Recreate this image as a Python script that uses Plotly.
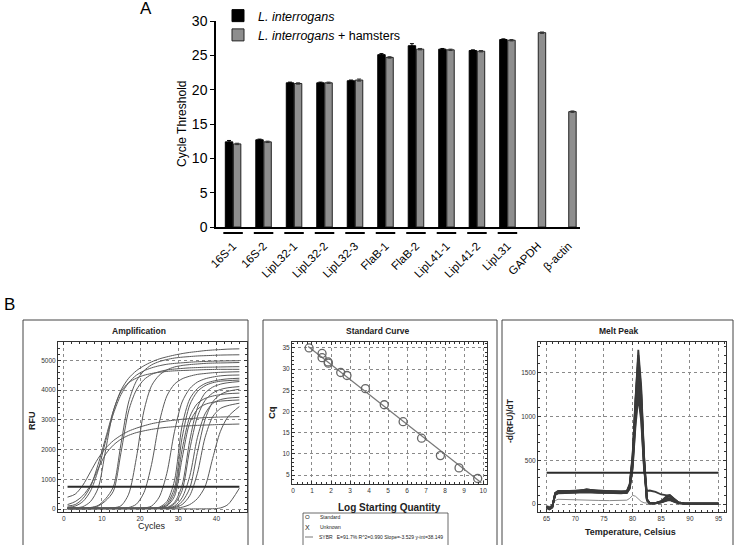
import plotly.graph_objects as go

W, H = 737, 545
FONT = "Liberation Sans, Arial, sans-serif"


def px(x):
    return x / W


def py(y):
    return 1 - y / H


# ---------------- Panel A data ----------------
categories = ["16S-1", "16S-2", "LipL32-1", "LipL32-2", "LipL32-3", "FlaB-1",
              "FlaB-2", "LipL41-1", "LipL41-2", "LipL31", "GAPDH", "β-actin"]
ct_li = [12.4, 12.7, 21.0, 21.0, 21.3, 25.1, 26.4, 25.9, 25.7, 27.3, None, None]
ct_li_err = [0.2, 0.1, 0.1, 0.1, 0.1, 0.15, 0.3, 0.1, 0.1, 0.1, 0, 0]
ct_lih = [12.1, 12.4, 20.9, 21.0, 21.4, 24.7, 25.9, 25.8, 25.6, 27.2, 28.3, 16.8]
ct_lih_err = [0.1, 0.1, 0.1, 0.1, 0.15, 0.1, 0.1, 0.1, 0.1, 0.1, 0.1, 0.1]
underlined = categories[:10]
ct_ticks = [0, 5, 10, 15, 20, 25, 30]

# ---------------- Amplification data ----------------
amp_cycles = [1, 3, 5, 7, 9, 11, 13, 15, 17, 19, 21, 23, 25, 27, 29, 31, 33, 35, 37, 39, 41, 43, 46]
amp_curves = [
    [400, 500, 800, 1250, 1700, 2050, 2300, 2480, 2620, 2720, 2800, 2870, 2920, 2960, 2990, 3020, 3040, 3060, 3075, 3085, 3095, 3100, 3110],
    [150, 250, 450, 800, 1350, 1850, 2150, 2350, 2480, 2570, 2630, 2680, 2720, 2750, 2770, 2790, 2800, 2815, 2825, 2835, 2845, 2850, 2860],
    [100, 150, 350, 750, 1500, 2400, 3300, 4000, 4400, 4650, 4820, 4950, 5050, 5120, 5180, 5230, 5270, 5300, 5330, 5350, 5365, 5380, 5390],
    [60, 100, 250, 600, 1300, 2300, 3200, 3850, 4250, 4500, 4650, 4750, 4820, 4870, 4900, 4920, 4940, 4955, 4965, 4975, 4980, 4985, 4990],
    [30, 40, 80, 250, 700, 2000, 3300, 3950, 4250, 4400, 4500, 4560, 4600, 4630, 4650, 4660, 4670, 4680, 4690, 4695, 4700, 4700, 4700],
    [20, 25, 30, 50, 120, 350, 750, 2200, 3600, 4300, 4650, 4850, 4960, 5030, 5080, 5110, 5130, 5150, 5160, 5170, 5180, 5185, 5190],
    [20, 25, 30, 40, 100, 280, 600, 1900, 3300, 4000, 4350, 4530, 4620, 4680, 4710, 4730, 4750, 4760, 4770, 4775, 4780, 4785, 4790],
    [10, 12, 15, 18, 20, 25, 40, 110, 500, 1700, 3300, 4150, 4500, 4680, 4780, 4830, 4860, 4880, 4900, 4910, 4915, 4920, 4930],
    [10, 10, 12, 15, 18, 20, 25, 30, 50, 160, 550, 1500, 2900, 3800, 4200, 4380, 4470, 4530, 4560, 4585, 4600, 4610, 4620],
    [10, 10, 10, 12, 14, 15, 17, 18, 20, 25, 35, 100, 400, 1200, 2600, 3600, 4050, 4270, 4380, 4440, 4480, 4500, 4510],
    [15, 15, 15, 15, 15, 15, 15, 15, 16, 18, 20, 30, 60, 250, 950, 2800, 3700, 4050, 4220, 4300, 4350, 4380, 4400],
    [30, 30, 28, 28, 26, 26, 25, 25, 25, 25, 26, 30, 40, 180, 700, 2400, 3500, 3950, 4150, 4250, 4300, 4320, 4340],
    [20, 20, 20, 20, 20, 20, 20, 20, 20, 20, 20, 22, 30, 130, 550, 2000, 3100, 3550, 3720, 3800, 3850, 3880, 3900],
    [40, 40, 38, 36, 35, 34, 33, 32, 31, 30, 30, 30, 35, 100, 420, 1700, 2900, 3350, 3520, 3590, 3630, 3650, 3670],
    [10, 10, 10, 10, 10, 10, 10, 10, 10, 12, 14, 16, 25, 50, 220, 800, 2300, 3400, 3900, 4100, 4200, 4250, 4290],
    [25, 25, 25, 24, 24, 23, 23, 22, 22, 22, 22, 24, 28, 40, 170, 620, 2000, 3100, 3650, 3900, 4020, 4080, 4120],
    [50, 48, 46, 45, 44, 43, 42, 41, 40, 40, 40, 40, 40, 45, 100, 380, 1100, 2400, 3200, 3550, 3680, 3730, 3760],
    [15, 15, 15, 15, 15, 15, 15, 15, 15, 15, 15, 16, 18, 25, 70, 250, 700, 1900, 3000, 3600, 3850, 3960, 4030],
    [35, 35, 34, 33, 32, 31, 30, 30, 30, 30, 30, 30, 30, 32, 50, 150, 450, 1200, 2400, 3100, 3380, 3480, 3560],
    [20, 20, 20, 20, 20, 20, 20, 20, 20, 20, 20, 20, 20, 22, 30, 60, 150, 350, 750, 1700, 2600, 3100, 3450],
    [5, 5, 5, 5, 5, 5, 5, 5, 5, 5, 5, 5, 5, 5, 5, 5, 5, 5, 6, 10, 35, 150, 700],
]
amp_threshold = 750

# ---------------- Standard curve data ----------------
std_log_qty = [0.85, 1.53, 1.53, 1.85, 1.86, 2.51, 2.84, 3.81, 4.80, 5.79, 6.76, 7.75, 8.73, 9.71]
std_cq = [35.0, 33.7, 32.7, 31.7, 31.4, 29.2, 28.5, 25.4, 21.6, 17.6, 13.7, 9.6, 6.7, 4.2]
fit_slope = -3.529
fit_intercept = 38.149
fit_range = [0.8, 9.9]
std_legend_lines = ["Standard", "Unknown",
                    "SYBR   E=91.7% R^2=0.990 Slope=-3.529 y-int=38.149"]

# ---------------- Melt peak data ----------------
melt_temp = [65.0, 65.5, 66.0, 66.5, 67.0, 68.0, 70.0, 72.0, 74.0, 76.0, 78.0, 79.0, 79.5, 80.0, 80.5,
             81.0, 81.5, 82.0, 82.5, 83.0, 84.0, 85.0, 86.0, 86.5, 87.0, 88.0, 89.0, 90.0, 92.5, 95.0]
melt_curves = [
    [-40, -55, -35, 130, 150, 152, 150, 165, 155, 150, 140, 150, 230, 560, 1250, 1760, 1350, 560, 60, 10, 10, 25, 60, 70, 50, 15, 8, 5, 5, 5],
    [-30, -45, -30, 120, 145, 148, 150, 160, 150, 148, 138, 145, 220, 540, 1200, 1700, 1300, 540, 55, 10, 12, 30, 80, 95, 70, 20, 8, 5, 5, 5],
    [-45, -60, -40, 125, 140, 145, 142, 155, 148, 145, 135, 142, 210, 520, 1150, 1640, 1250, 520, 50, 8, 10, 20, 45, 50, 35, 12, 6, 5, 4, 5],
    [-35, -50, -25, 115, 135, 140, 140, 150, 142, 140, 130, 140, 200, 500, 1100, 1560, 1200, 500, 50, 10, 12, 30, 75, 90, 65, 18, 8, 5, 5, 5],
    [-25, -40, -20, 110, 130, 135, 135, 148, 140, 138, 128, 135, 195, 470, 1050, 1480, 1130, 470, 45, 8, 10, 22, 50, 60, 45, 12, 6, 4, 4, 4],
    [-40, -50, -30, 120, 140, 142, 140, 170, 145, 142, 132, 140, 190, 450, 1000, 1400, 1080, 450, 45, 10, 12, 35, 95, 105, 75, 20, 8, 5, 5, 5],
    [-30, -45, -25, 110, 128, 130, 130, 140, 132, 130, 122, 130, 180, 420, 930, 1300, 1000, 420, 40, 8, 10, 20, 40, 45, 35, 10, 5, 4, 4, 4],
    [-35, -45, -30, 105, 122, 125, 125, 135, 128, 126, 118, 125, 175, 400, 880, 1220, 950, 400, 150, 155, 140, 110, 100, 100, 70, 20, 8, 5, 5, 5],
]
melt_outlier = [-20, -25, -10, 40, 55, 52, 48, 45, 42, 40, 40, 45, 65, 100, 90, 60, 30, 15, 10, 10, 10, 20, 40, 45, 35, 10, 6, 5, 5, 5]
melt_threshold = 357
melt_threshold_range = [65, 95]

fig = go.Figure()

# ---------------- Panel A traces ----------------
fig.add_trace(go.Bar(
    x=categories, y=ct_li, name="<i>L. interrogans</i>",
    marker=dict(color="black", line=dict(color="black", width=1)),
    error_y=dict(type="data", array=ct_li_err, color="black", thickness=1, width=2),
    xaxis="x", yaxis="y"))
fig.add_trace(go.Bar(
    x=categories, y=ct_lih, name="<i>L. interrogans</i> + hamsters",
    marker=dict(color="#8e8e8e", line=dict(color="#222222", width=1)),
    error_y=dict(type="data", array=ct_lih_err, color="#333333", thickness=1, width=2),
    xaxis="x", yaxis="y"))

# ---------------- Amplification traces ----------------
for curve in amp_curves:
    fig.add_trace(go.Scatter(
        x=amp_cycles, y=curve, mode="lines", showlegend=False,
        line=dict(color="#5a5a5a", width=1, shape="spline", smoothing=0.8),
        xaxis="x2", yaxis="y2", hoverinfo="skip"))
fig.add_trace(go.Scatter(
    x=[amp_cycles[0], amp_cycles[-1]], y=[amp_threshold, amp_threshold], mode="lines",
    showlegend=False, line=dict(color="#2b2b2b", width=2), xaxis="x2", yaxis="y2"))

# ---------------- Standard curve traces ----------------
fig.add_trace(go.Scatter(
    x=fit_range, y=[fit_intercept + fit_slope * v for v in fit_range], mode="lines",
    showlegend=False, line=dict(color="#777777", width=1.2), xaxis="x3", yaxis="y3"))
fig.add_trace(go.Scatter(
    x=std_log_qty, y=std_cq, mode="markers", showlegend=False,
    marker=dict(symbol="circle-open", size=8, color="#666666", line=dict(width=1.3, color="#666666")),
    xaxis="x3", yaxis="y3"))

# ---------------- Melt peak traces ----------------
fig.add_trace(go.Scatter(
    x=melt_temp, y=melt_outlier, mode="lines", showlegend=False,
    line=dict(color="#8a8a8a", width=1), xaxis="x4", yaxis="y4"))
for curve in melt_curves:
    fig.add_trace(go.Scatter(
        x=melt_temp, y=curve, mode="lines", showlegend=False,
        line=dict(color="#3a3a3a", width=1.8), xaxis="x4", yaxis="y4", hoverinfo="skip"))
fig.add_trace(go.Scatter(
    x=melt_threshold_range, y=[melt_threshold, melt_threshold], mode="lines",
    showlegend=False, line=dict(color="#2b2b2b", width=2), xaxis="x4", yaxis="y4"))

# ---------------- Layout ----------------
b_axis = dict(showline=True, linecolor="#333333", linewidth=1, mirror="ticks",
              ticks="inside", ticklen=3, tickcolor="#333333",
              showgrid=True, gridcolor="#8a8a8a", griddash="dot", gridwidth=1,
              zeroline=False, automargin=False,
              tickfont=dict(size=6.5, color="#333333", family=FONT))

shapes = []
# underline segments below the bacterial targets
for i, cat in enumerate(categories):
    if cat in underlined:
        shapes.append(dict(type="line", xref="x", yref="paper",
                           x0=i - 0.32, x1=i + 0.32, y0=py(233), y1=py(233),
                           line=dict(color="black", width=2)))
# panel B frames
for x0, x1 in [(23, 248), (263, 497), (502, 733)]:
    shapes.append(dict(type="rect", xref="paper", yref="paper",
                       x0=px(x0), x1=px(x1), y0=-0.02, y1=py(320),
                       line=dict(color="#444444", width=1)))
# standard curve legend box
shapes.append(dict(type="rect", xref="paper", yref="paper",
                   x0=px(303), x1=px(448), y0=-0.02, y1=py(513),
                   line=dict(color="#444444", width=0.8)))
shapes.append(dict(type="line", xref="paper", yref="paper",
                   x0=px(305), x1=px(313), y0=py(537), y1=py(537),
                   line=dict(color="#555555", width=0.8)))

annotations = []


def label(text, x, y, size, bold=False, angle=0, xanchor="center", color="#222222"):
    annotations.append(dict(
        text=f"<b>{text}</b>" if bold else text, x=px(x), y=py(y), xref="paper", yref="paper",
        showarrow=False, textangle=angle, xanchor=xanchor, yanchor="middle",
        font=dict(family=FONT, size=size, color=color)))


label("A", 146, 9, 17, color="black")
label("B", 9, 304, 17, color="black")
label("Cycle Threshold", 182, 124, 12, angle=-90, color="black")
label("Amplification", 139, 331, 8.5, bold=True)
label("RFU", 32, 420, 9, bold=True, angle=-90)
label("Cycles", 152, 526, 9)
label("Standard Curve", 378, 331, 8.5, bold=True)
label("Cq", 271, 413, 9.5, bold=True, angle=-90)
label("Log Starting Quantity", 389, 507, 10, bold=True)
label("Melt Peak", 618, 331, 8.5, bold=True)
label("-d(RFU)/dT", 510, 420, 8.5, bold=True, angle=-90)
label("Temperature, Celsius", 630, 532, 9, bold=True)
label("O", 307, 517, 6)
label("X", 307, 527, 7)
label(std_legend_lines[0], 318, 517, 5, xanchor="left")
label(std_legend_lines[1], 318, 527, 5, xanchor="left")
label(std_legend_lines[2], 317, 537, 5, xanchor="left")

fig.update_layout(
    width=W, height=H, margin=dict(l=0, r=0, t=0, b=0, pad=0, autoexpand=False),
    paper_bgcolor="white", plot_bgcolor="white",
    font=dict(family=FONT, color="black"),
    barmode="group", bargap=0.47, bargroupgap=0.08,
    showlegend=True,
    legend=dict(x=px(218), y=py(1), xanchor="left", yanchor="top",
                font=dict(size=12.5, family=FONT, color="black"),
                bgcolor="rgba(0,0,0,0)", tracegroupgap=0),
    xaxis=dict(domain=[px(216), px(580)], range=[-0.56, 11.38], anchor="y",
               showline=True, linecolor="black", linewidth=1.5, ticks="",
               tickangle=-45, tickfont=dict(size=11.5, family=FONT, color="black"),
               ticklabelstandoff=6, showgrid=False, zeroline=False, automargin=False),
    yaxis=dict(domain=[py(227), py(21)], range=[0, 30], anchor="x",
               tickvals=ct_ticks, showline=True, linecolor="black", linewidth=1.5,
               ticks="outside", ticklen=4, tickcolor="black",
               tickfont=dict(size=14, family=FONT, color="black"),
               showgrid=False, zeroline=False, automargin=False),
    xaxis2=dict(b_axis, domain=[px(58), px(247)], range=[-1.5, 48], anchor="y2",
                dtick=10, tick0=0,
                minor=dict(ticks="inside", ticklen=2, tickcolor="#333333", dtick=2, showgrid=False)),
    yaxis2=dict(b_axis, domain=[py(512), py(342)], range=[-100, 5620], anchor="x2",
                dtick=1000, tick0=0,
                minor=dict(ticks="inside", ticklen=2, tickcolor="#333333", dtick=200, showgrid=False)),
    xaxis3=dict(b_axis, domain=[px(292), px(487)], range=[-0.05, 10.2], anchor="y3",
                dtick=1, tick0=0,
                minor=dict(ticks="inside", ticklen=2, tickcolor="#333333", dtick=0.25, showgrid=False)),
    yaxis3=dict(b_axis, domain=[py(484), py(342)], range=[2.9, 36.4], anchor="x3",
                dtick=5, tick0=0,
                minor=dict(ticks="inside", ticklen=2, tickcolor="#333333", dtick=1, showgrid=False)),
    xaxis4=dict(b_axis, domain=[px(538), px(726)], range=[63.5, 96.3], anchor="y4",
                dtick=5, tick0=0,
                minor=dict(ticks="inside", ticklen=2, tickcolor="#333333", dtick=1, showgrid=False)),
    yaxis4=dict(b_axis, domain=[py(512), py(342)], range=[-90, 1850], anchor="x4",
                dtick=500, tick0=0,
                minor=dict(ticks="inside", ticklen=2, tickcolor="#333333", dtick=100, showgrid=False)),
    shapes=shapes, annotations=annotations,
)

fig.write_html("out.html", config={"displayModeBar": False},
               post_script="document.body.style.margin='0';document.body.style.padding='0';")
